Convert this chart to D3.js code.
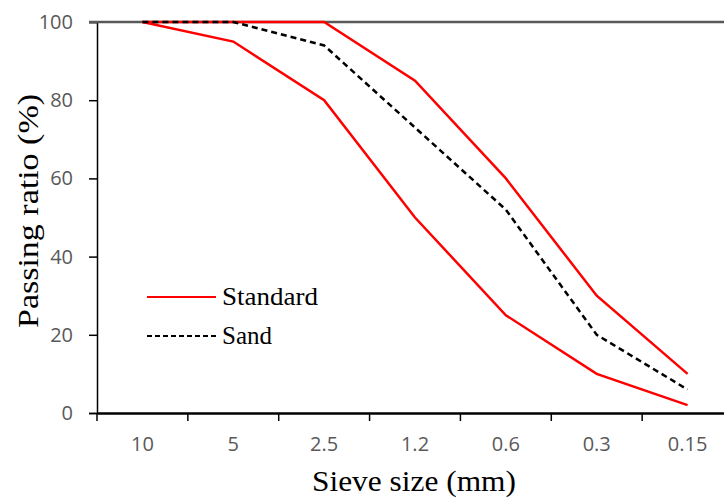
<!DOCTYPE html>
<html>
<head>
<meta charset="utf-8">
<title>Sieve grading</title>
<style>
  body { margin: 0; background: #fff; }
  .tick text { font-family: "Open Sans", sans-serif; fill: #595959; font-size: 20px; }
  .title { font-family: "Liberation Serif", "Times New Roman", serif; fill: #000; font-size: 29px; }
  .legend text { font-family: "Liberation Serif", "Times New Roman", serif; fill: #000; font-size: 26px; }
</style>
</head>
<body>
<svg width="724" height="502"></svg>
<script src="https://d3js.org/d3.v7.min.js"></script>
<script>
  // sieve sizes (mm) and passing ratios (%)
  var sieves = ["10", "5", "2.5", "1.2", "0.6", "0.3", "0.15"];
  var standardUpper = [100, 100, 100, 85, 60, 30, 10];
  var standardLower = [100, 95, 80, 50, 25, 10, 2];
  var sand = [100, 100, 94, 73, 52, 20, 6];
  var yTicks = [0, 20, 40, 60, 80, 100];

  var svg = d3.select("svg");
  var plotLeft = 97, plotTop = 22, plotW = 636, plotBottom = 413;

  var x = d3.scaleBand().domain(sieves).range([plotLeft, plotLeft + plotW]);
  var y = d3.scaleLinear().domain([0, 100]).range([plotBottom, plotTop]);

  // y axis
  var yAxis = svg.append("g")
    .attr("transform", "translate(" + plotLeft + ",0)")
    .call(d3.axisLeft(y).tickValues(yTicks).tickSize(8).tickPadding(16));
  yAxis.select(".domain").attr("stroke", "#000").attr("stroke-width", 1.5);
  yAxis.selectAll(".tick line").attr("stroke", "#000").attr("stroke-width", 1.5);

  // top gridline at 100
  svg.append("line")
    .attr("x1", plotLeft - 8).attr("x2", 724)
    .attr("y1", y(100)).attr("y2", y(100))
    .attr("stroke", "#595959").attr("stroke-width", 2.5);

  // x axis, ticks between categories
  var xAxis = svg.append("g")
    .attr("transform", "translate(0," + plotBottom + ")")
    .call(d3.axisBottom(x).tickSize(0).tickPadding(24));
  xAxis.select(".domain").attr("stroke", "#000").attr("stroke-width", 2.5);
  xAxis.selectAll(".sep")
    .data(d3.range(sieves.length + 1))
    .enter().append("line")
    .attr("class", "sep")
    .attr("x1", function(i) { return plotLeft + i * x.step(); })
    .attr("x2", function(i) { return plotLeft + i * x.step(); })
    .attr("y1", 0).attr("y2", 8)
    .attr("stroke", "#000").attr("stroke-width", 1.5);

  var line = d3.line()
    .x(function(d, i) { return x(sieves[i]) + x.bandwidth() / 2; })
    .y(function(d) { return y(d); });

  [standardUpper, standardLower].forEach(function(s) {
    svg.append("path").datum(s)
      .attr("d", line)
      .attr("fill", "none")
      .attr("stroke", "#ff0000")
      .attr("stroke-width", 2.5);
  });

  svg.append("path").datum(sand)
    .attr("d", line)
    .attr("fill", "none")
    .attr("stroke", "#000")
    .attr("stroke-width", 2.5)
    .attr("stroke-dasharray", "6,4");

  // legend
  var legend = svg.append("g").attr("class", "legend");
  legend.append("line")
    .attr("x1", 147).attr("x2", 216).attr("y1", 297).attr("y2", 297)
    .attr("stroke", "#ff0000").attr("stroke-width", 2);
  legend.append("text").attr("x", 222).attr("y", 305)
    .attr("textLength", 96).attr("lengthAdjust", "spacingAndGlyphs")
    .text("Standard");
  legend.append("line")
    .attr("x1", 147).attr("x2", 216).attr("y1", 336).attr("y2", 336)
    .attr("stroke", "#000").attr("stroke-width", 2).attr("stroke-dasharray", "5,3");
  legend.append("text").attr("x", 222).attr("y", 344)
    .attr("textLength", 50).attr("lengthAdjust", "spacingAndGlyphs")
    .text("Sand");

  // axis titles
  svg.append("text").attr("class", "title")
    .attr("x", 312).attr("y", 491)
    .attr("textLength", 204).attr("lengthAdjust", "spacingAndGlyphs")
    .text("Sieve size (mm)");
  svg.append("text").attr("class", "title")
    .attr("transform", "translate(38,328) rotate(-90)")
    .attr("textLength", 234).attr("lengthAdjust", "spacingAndGlyphs")
    .text("Passing ratio (%)");
</script>
</body>
</html>
